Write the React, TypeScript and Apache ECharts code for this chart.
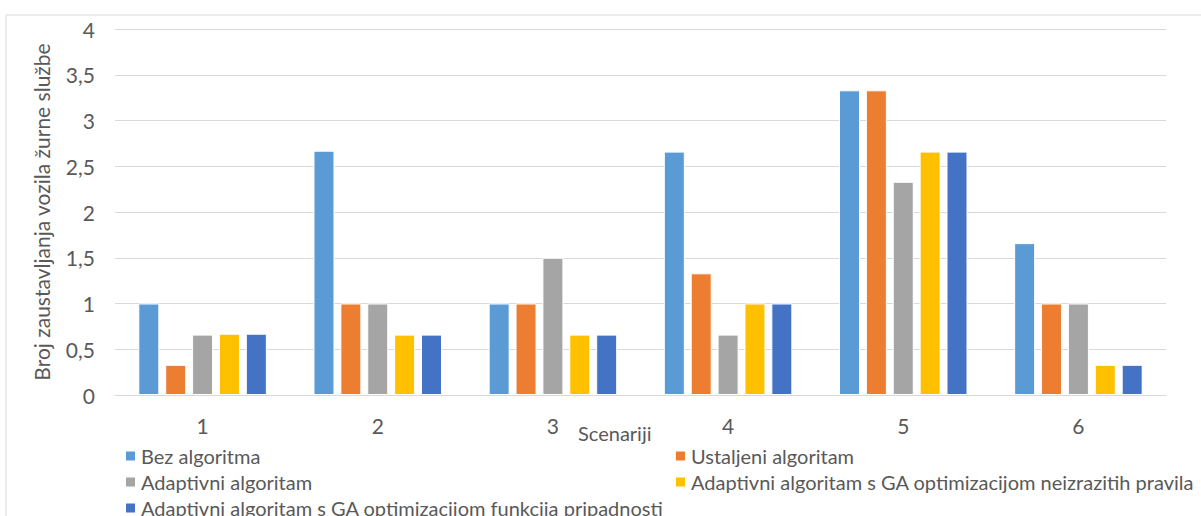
import React, { useEffect, useRef } from "react";
import * as echarts from "echarts";

const categories = ["1", "2", "3", "4", "5", "6"];
const seriesNames = [
  "Bez algoritma",
  "Ustaljeni algoritam",
  "Adaptivni algoritam",
  "Adaptivni algoritam s GA optimizacijom neizrazitih pravila",
  "Adaptivni algoritam s GA optimizacijom funkcija pripadnosti",
];
const bezAlgoritma = [1, 2.67, 1, 2.66, 3.33, 1.66];
const ustaljeni = [0.33, 1, 1, 1.33, 3.33, 1];
const adaptivni = [0.66, 1, 1.5, 0.66, 2.33, 1];
const gaPravila = [0.67, 0.66, 0.66, 1, 2.66, 0.33];
const gaFunkcije = [0.67, 0.66, 0.66, 1, 2.66, 0.33];
const colors = ["#5B9BD5", "#ED7D31", "#A5A5A5", "#FFC000", "#4472C4"];
const yAxisTitle = "Broj zaustavljanja vozila žurne službe";
const xAxisTitle = "Scenariji";

const FONT = "Lato, 'Noto Sans', sans-serif";

export default function App() {
  const ref = useRef<HTMLDivElement>(null);
  useEffect(() => {
    if (!ref.current) return;
    const chart = echarts.init(ref.current, undefined, { renderer: "svg" });
    const data = [bezAlgoritma, ustaljeni, adaptivni, gaPravila, gaFunkcije];
    const legendPos = [
      { left: 124, top: 446 },
      { left: 674, top: 446 },
      { left: 124, top: 472 },
      { left: 674, top: 472 },
      { left: 124, top: 498 },
    ];
    chart.setOption({
      animation: false,
      color: colors,
      textStyle: { fontFamily: FONT },
      graphic: [
        {
          type: "rect",
          shape: { x: 6, y: 15, width: 1300, height: 700 },
          style: { fill: "none", stroke: "#d9d9d9", lineWidth: 1 },
          z: -10,
        },
        {
          type: "text",
          left: 578,
          top: 423,
          style: { text: xAxisTitle, fontSize: 20, fill: "#595959", fontFamily: FONT },
        },
      ],
      grid: { left: 115, right: 35, top: 29, bottom: 121 },
      legend: seriesNames.map((n, i) => ({
        data: [n],
        left: legendPos[i].left,
        top: legendPos[i].top,
        padding: 0,
        itemWidth: 11,
        itemHeight: 11,
        itemGap: 0,
        icon: "rect",
        textStyle: { fontSize: 20, color: "#595959", fontFamily: FONT },
      })),
      xAxis: {
        type: "category",
        data: categories,
        axisLine: { lineStyle: { color: "#d9d9d9" } },
        axisTick: { show: false },
        axisLabel: { fontSize: 21, color: "#595959", margin: 20, fontFamily: FONT },
      },
      yAxis: {
        type: "value",
        min: 0,
        max: 4,
        interval: 0.5,
        name: yAxisTitle,
        nameLocation: "middle",
        nameGap: 63,
        nameTextStyle: { fontSize: 21, color: "#595959", fontFamily: FONT },
        axisLabel: {
          fontSize: 21,
          color: "#595959",
          margin: 20,
          fontFamily: FONT,
          formatter: (v: number) => String(v).replace(".", ","),
        },
        splitLine: { lineStyle: { color: "#d9d9d9" } },
      },
      series: seriesNames.map((n, i) => ({
        name: n,
        type: "bar",
        data: data[i],
        barWidth: 21,
        barGap: "28%",
        itemStyle: { borderColor: "#ffffff", borderWidth: 1 },
      })),
    });
    return () => chart.dispose();
  }, []);
  return (
    <div
      ref={ref}
      style={{ position: "absolute", left: 0, top: 0, width: 1201, height: 516, background: "#fff" }}
    />
  );
}
